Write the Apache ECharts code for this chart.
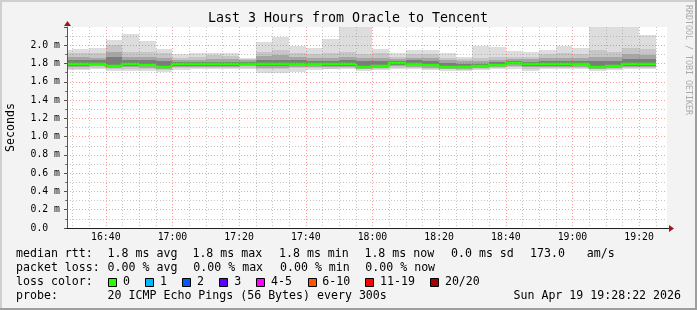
<!DOCTYPE html>
<html><head><meta charset="utf-8">
<script src="https://cdn.jsdelivr.net/npm/echarts@6/dist/echarts.min.js"></script>
<style>html,body{margin:0;padding:0;background:#f3f3f3}#c{width:697px;height:310px}</style>
</head><body><div id="c"></div>
<script>
// ---- data (ms) ----
const bucketStart = ['16:25','16:30','16:35','16:40','16:45','16:50','16:55','17:00','17:05','17:10','17:15','17:20',
  '17:25','17:30','17:35','17:40','17:45','17:50','17:55','18:00','18:05','18:10','18:15','18:20',
  '18:25','18:30','18:35','18:40','18:45','18:50','18:55','19:00','19:05','19:10','19:15','19:20'];
const maxV = [1.95,1.956,1.975,2.06,2.12,2.05,1.956,1.90,1.92,1.92,1.91,1.866,
  2.036,2.09,1.99,1.967,2.066,2.3,2.3,1.956,1.91,1.945,1.945,1.92,
  1.877,1.99,1.98,1.94,1.927,1.945,1.99,1.967,2.3,2.3,2.3,2.11];
const hi2 = [1.92,1.92,1.92,2.00,1.93,1.93,1.92,1.865,1.875,1.89,1.88,1.85,
  1.93,1.95,1.92,1.90,1.92,1.93,1.90,1.91,1.875,1.90,1.90,1.865,
  1.85,1.865,1.875,1.875,1.875,1.90,1.92,1.90,1.95,1.93,1.975,1.956];
const hi3 = [1.875,1.876,1.865,1.93,1.87,1.875,1.865,1.84,1.84,1.85,1.85,1.835,
  1.88,1.89,1.87,1.865,1.865,1.875,1.865,1.865,1.85,1.865,1.865,1.84,
  1.825,1.825,1.84,1.85,1.85,1.86,1.865,1.86,1.875,1.87,1.90,1.895];
const hi4 = [1.835,1.836,1.84,1.875,1.835,1.84,1.83,1.815,1.815,1.82,1.82,1.82,
  1.835,1.84,1.835,1.83,1.83,1.835,1.83,1.825,1.83,1.835,1.83,1.81,
  1.80,1.80,1.815,1.825,1.82,1.83,1.83,1.825,1.83,1.83,1.85,1.85];
const medianV = [1.79,1.79,1.80,1.775,1.79,1.785,1.763,1.79,1.79,1.79,1.79,1.80,
  1.795,1.795,1.795,1.795,1.79,1.79,1.767,1.778,1.803,1.795,1.787,1.763,
  1.763,1.77,1.787,1.807,1.79,1.79,1.79,1.795,1.767,1.77,1.79,1.79];
const lo4 = [1.775,1.775,1.78,1.76,1.775,1.77,1.75,1.775,1.775,1.775,1.775,1.785,
  1.775,1.775,1.78,1.78,1.775,1.775,1.755,1.765,1.785,1.78,1.77,1.75,
  1.75,1.758,1.775,1.79,1.775,1.775,1.775,1.78,1.755,1.758,1.775,1.775];
const lo3 = [1.76,1.76,1.77,1.75,1.76,1.755,1.74,1.765,1.765,1.76,1.765,1.77,
  1.755,1.755,1.765,1.765,1.76,1.765,1.745,1.75,1.77,1.765,1.755,1.74,
  1.74,1.75,1.76,1.775,1.76,1.765,1.765,1.765,1.745,1.748,1.765,1.765];
const lo2 = [1.745,1.745,1.755,1.74,1.745,1.74,1.73,1.75,1.75,1.75,1.75,1.755,
  1.735,1.735,1.75,1.75,1.745,1.75,1.735,1.74,1.755,1.75,1.74,1.735,
  1.73,1.74,1.75,1.76,1.745,1.75,1.75,1.75,1.735,1.738,1.75,1.75];
const minV = [1.73,1.73,1.735,1.72,1.72,1.72,1.712,1.73,1.738,1.735,1.735,1.735,
  1.70,1.70,1.71,1.725,1.735,1.735,1.72,1.725,1.74,1.735,1.725,1.72,
  1.72,1.725,1.735,1.74,1.72,1.735,1.735,1.735,1.72,1.725,1.735,1.735];
const tickLabels = ['16:40','17:00','17:20','17:40','18:00','18:20','18:40','19:00','19:20'];
const viewStart = '16:28:22', viewEnd = '19:28:22';
const stepMin = 5;
const legendColors = ['#26ff00','#00b8ff','#0059ff','#5e00ff','#ff00ff','#ff5500','#ff0000','#a10000'];
const legendLabels = ['0','1','2','3','4-5','6-10','11-19','20/20'];

function toMin(s){ const p = s.split(':').map(Number); return (p[0]-16)*60 + p[1] + (p[2]||0)/60; }
const xMin = toMin(viewStart), xMax = toMin(viewEnd);
const yMax = 2.2;

const smokeData = bucketStart.map((s,i)=>[toMin(s), toMin(s)+stepMin, maxV[i], hi2[i], hi3[i], hi4[i], medianV[i],
  lo4[i], lo3[i], lo2[i], minV[i], i>0 ? medianV[i-1] : medianV[i]]);

const gridMins = [];
for (let m = Math.ceil(xMin/stepMin)*stepMin; m < xMax; m += stepMin) gridMins.push(m);
const majorSet = new Set(tickLabels.map(toMin));

const MONO = '"DejaVu Sans Mono", monospace';
const RED = 'rgba(255,60,60,0.5)', GRAY = 'rgba(150,150,150,0.55)';

function renderSmoke(params, api){
  const x0 = Math.round(api.coord([api.value(0), 0])[0]);
  const x1 = Math.round(api.coord([api.value(1), 0])[0]);
  const Y = v => api.coord([api.value(0), v])[1];
  const bands = [[10,2,'#dddddd'],[9,3,'#c6c6c6'],[8,4,'#a6a6a6'],[7,5,'#7c7c7c']];
  const children = bands.map(([lo,hi,c]) => {
    const yt = Math.round(Y(api.value(hi))), yb = Math.round(Y(api.value(lo)));
    return {type:'rect', shape:{x:x0, y:yt, width:x1-x0, height:yb-yt}, style:{fill:c}};
  });
  const ym = Math.round(Y(api.value(6))), yp = Math.round(Y(api.value(11)));
  children.push({type:'polyline', shape:{points:[[x0,yp],[x0,ym],[x1,ym]]},
    style:{stroke:'#26ff00', lineWidth:2.6, fill:null}});
  return {type:'group', children};
}
function renderVGrid(params, api){
  const m = api.value(0);
  const x = Math.round(api.coord([m, 0])[0]) + 0.5;
  const yb = api.coord([m, 0])[1], yt = api.coord([m, yMax])[1];
  const major = majorSet.has(m);
  return {type:'line', shape:{x1:x, y1:yt, x2:x, y2:yb},
    style:{stroke: major ? RED : GRAY, lineWidth:1, lineDash:[1,2]}};
}
function renderXLabel(params, api){
  const p = api.coord([api.value(0), 0]);
  return {type:'text', x: p[0], y: p[1] + 9,
    style:{text: tickLabels[params.dataIndex], fontFamily: MONO, fontSize: 9.8, fill:'#000', align:'center', verticalAlign:'middle'}};
}

const chart = echarts.init(document.getElementById('c'), null, {renderer:'canvas'});
const T = (x, y, s, o) => Object.assign({type:'text', x, y, silent:true,
  style: Object.assign({text:s, fontFamily:MONO, fontSize:11.6, fill:'#000', align:'left', verticalAlign:'middle'}, (o&&o.style)||{})},
  o ? {rotation:o.rotation||0} : {});

const gfx = [
  {type:'line', shape:{x1:0,y1:1,x2:697,y2:1}, style:{stroke:'#cfcfcf', lineWidth:2}, silent:true},
  {type:'line', shape:{x1:1,y1:0,x2:1,y2:310}, style:{stroke:'#cfcfcf', lineWidth:2}, silent:true},
  {type:'line', shape:{x1:0,y1:309,x2:697,y2:309}, style:{stroke:'#9e9e9e', lineWidth:2}, silent:true},
  {type:'line', shape:{x1:696,y1:0,x2:696,y2:310}, style:{stroke:'#9e9e9e', lineWidth:2}, silent:true},
  T(348, 19, 'Last 3 Hours from Oracle to Tencent', {style:{fontSize:13.3, align:'center'}}),
  T(11, 127.5, 'Seconds', {rotation: Math.PI/2, style:{align:'center'}}),
  T(688, 60, 'RRDTOOL / TOBI OETIKER', {rotation: -Math.PI/2, style:{align:'center', fontSize:8.3, fill:'#aaaaaa'}}),
  T(16, 254, 'median rtt:'), T(107.6, 254, '1.8 ms avg'), T(192.4, 254, '1.8 ms max'), T(279, 254, '1.8 ms min'),
  T(364.4, 254, '1.8 ms now'), T(451, 254, '0.0 ms sd'), T(530, 254, '173.0'), T(586.7, 254, 'am/s'),
  T(16, 268, 'packet loss:'), T(107.6, 268, '0.00 % avg'), T(193.3, 268, '0.00 % max'), T(280, 268, '0.00 % min'), T(365.3, 268, '0.00 % now'),
  T(16, 282, 'loss color:'),
  T(16, 296, 'probe:'), T(107.6, 296, '20 ICMP Echo Pings (56 Bytes) every 300s'),
  T(681, 296, 'Sun Apr 19 19:28:22 2026', {style:{align:'right'}})
];
const boxX = [108, 145.3, 182.2, 219.1, 256.4, 307.6, 365.3, 430.2];
const labX = [123, 160, 196.9, 234.2, 271.1, 322.2, 380, 444.9];
legendLabels.forEach((l,i)=>{
  gfx.push({type:'rect', shape:{x:Math.round(boxX[i])+0.5, y:278.5, width:8, height:8}, style:{fill:legendColors[i], stroke:'#000', lineWidth:1}, silent:true});
  gfx.push(T(labX[i], 282, l));
});

chart.setOption({
  animation:false,
  backgroundColor:'#f3f3f3',
  grid:{left:67, top:27, width:600, height:201, containLabel:false, outerBoundsMode:'none', show:true, backgroundColor:'#ffffff', borderWidth:0},
  xAxis:{type:'value', min:xMin, max:xMax, z:6,
    axisLine:{show:true, onZero:false, lineStyle:{color:'#222', width:1}},
    axisTick:{show:false}, axisLabel:{show:false}, splitLine:{show:false}},
  yAxis:{type:'value', min:0, max:yMax, interval:0.2, z:5,
    axisLine:{show:true, onZero:false, lineStyle:{color:'#555', width:1}},
    axisTick:{show:true, length:3, lineStyle:{color:'#555'}},
    minorTick:{show:true, splitNumber:2, length:2, lineStyle:{color:'#777'}},
    axisLabel:{margin:7, fontFamily:MONO, fontSize:9.8, color:'#000', showMaxLabel:false,
      formatter: v => v === 0 ? '0.0\u00a0\u00a0' : v.toFixed(1) + ' m'},
    splitLine:{show:true, showMaxLine:false, showMinLine:false, lineStyle:{color:RED, type:[1,2], width:1}},
    minorSplitLine:{show:true, lineStyle:{color:GRAY, type:[1,2], width:1}}},
  series:[
    {type:'custom', name:'smoke', z:2, clip:true, renderItem:renderSmoke, data:smokeData, silent:true},
    {type:'custom', name:'vgrid', z:4, clip:true, renderItem:renderVGrid, data:gridMins.map(m=>[m]), silent:true},
    {type:'custom', name:'xlabels', z:4, clip:false, renderItem:renderXLabel, data:tickLabels.map(s=>[toMin(s)]), silent:true}
  ],
  graphic: gfx
});

// axis arrows anchored to the axis ends
const pEnd = chart.convertToPixel({gridIndex:0}, [xMax, 0]);
const pTop = chart.convertToPixel({gridIndex:0}, [xMin, yMax]);
const ax = Math.round(pEnd[0]), ay = Math.round(pEnd[1]) + 0.5;
const tx = Math.round(pTop[0]) + 0.5, ty = Math.round(pTop[1]);
gfx.push({type:'line', shape:{x1:ax, y1:ay, x2:ax+2, y2:ay}, style:{stroke:'#222', lineWidth:1}, silent:true, z:10});
gfx.push({type:'polygon', shape:{points:[[ax+2, ay-3.5],[ax+2, ay+3.5],[ax+7, ay]]}, style:{fill:'#a01818'}, silent:true, z:10});
gfx.push({type:'polygon', shape:{points:[[tx-3.5, ty-1],[tx+3.5, ty-1],[tx, ty-6]]}, style:{fill:'#a01818'}, silent:true, z:10});
chart.setOption({graphic: gfx});
</script>
</body></html>
